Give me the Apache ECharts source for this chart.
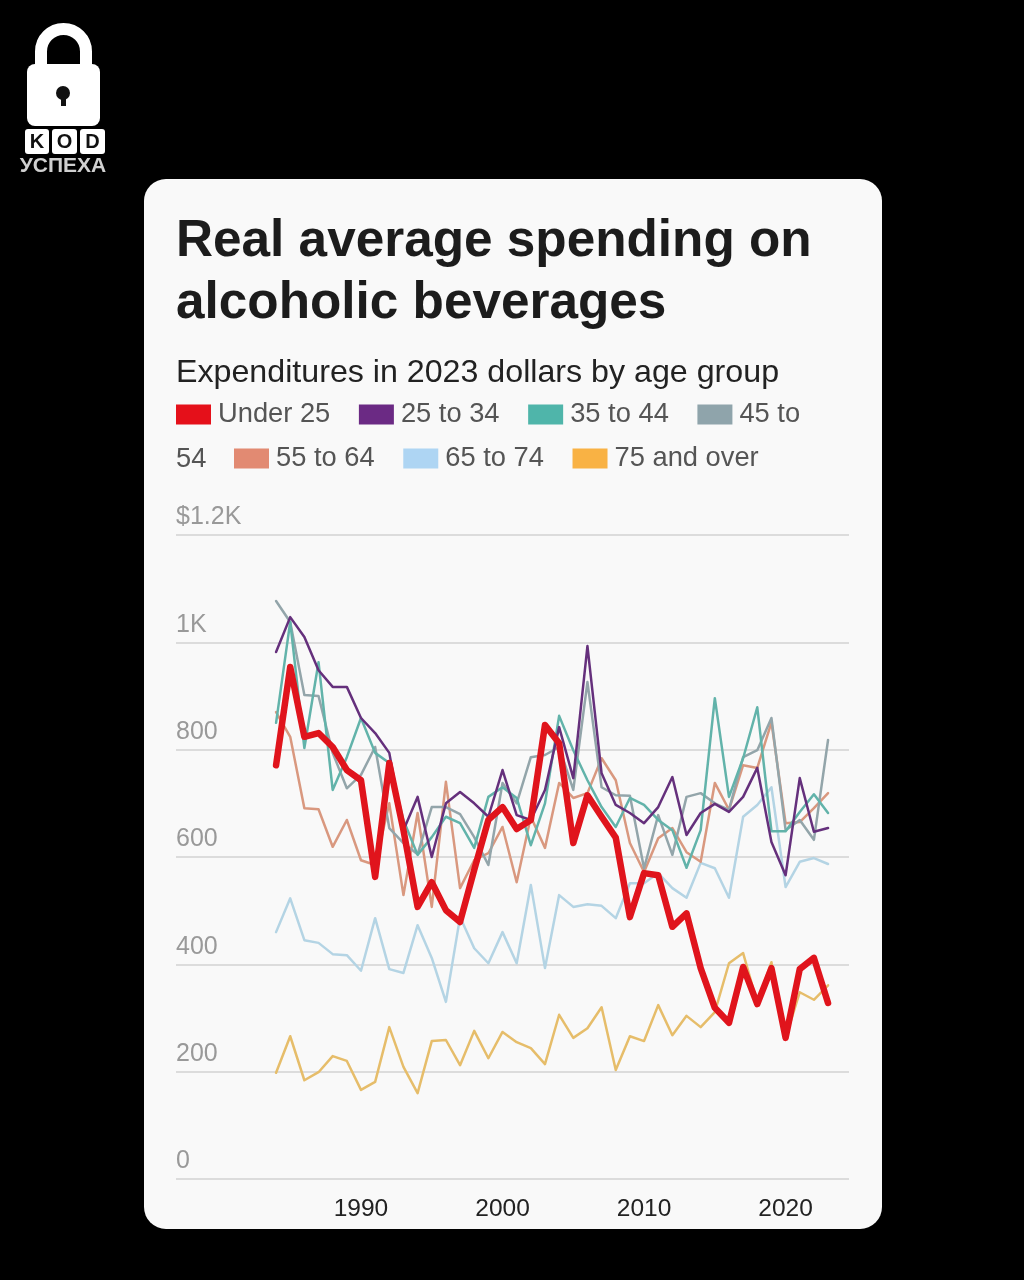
<!DOCTYPE html>
<html><head><meta charset="utf-8">
<style>html,body{margin:0;padding:0;background:#000}#c{width:1024px;height:1280px}</style>
<script src="https://cdn.jsdelivr.net/npm/echarts@6/dist/echarts.min.js"></script>
</head><body><div id="c"></div>
<script>
const years = [1984,1985,1986,1987,1988,1989,1990,1991,1992,1993,1994,1995,1996,1997,1998,1999,2000,2001,2002,2003,2004,2005,2006,2007,2008,2009,2010,2011,2012,2013,2014,2015,2016,2017,2018,2019,2020,2021,2022,2023];
const under25 = [771,954,824,831,805,762,743,563,775,650,507,553,501,479,576,669,693,652,669,846,812,626,715,675,636,488,570,566,470,495,393,319,291,395,326,393,263,391,412,328];
const age25to34 = [982,1047,1010,948,917,917,859,831,794,650,712,600,700,721,700,675,762,678,669,725,842,747,993,756,697,682,663,693,749,641,682,699,684,712,766,628,566,747,647,654];
const age35to44 = [850,1038,803,963,725,786,859,794,775,669,604,637,675,663,617,712,730,710,622,700,863,799,743,693,656,710,697,669,650,580,650,896,712,784,879,648,648,684,717,682];
const age45to54 = [1077,1038,902,900,794,728,753,805,654,626,605,693,693,680,637,585,738,700,786,790,805,725,926,730,715,714,579,678,604,712,719,700,688,786,799,859,650,669,632,818];
const age55to64 = [870,824,691,689,619,669,594,585,700,529,682,507,740,542,594,607,656,553,675,617,738,710,719,784,743,626,572,635,654,609,591,738,688,771,766,851,663,665,691,719];
const age65to74 = [460,523,445,440,419,417,388,486,391,384,473,412,330,488,430,402,460,402,548,393,529,507,512,509,486,551,551,570,542,524,589,579,524,675,697,730,544,591,598,587];
const age75plus = [198,266,184,199,229,220,166,181,283,209,160,257,259,212,276,225,274,255,244,214,306,263,281,320,203,266,257,324,268,304,283,311,402,421,328,404,263,348,334,361];
const yTicks = [0,200,400,600,800,1000,1200];
const yTickLabels = {0:'0',200:'200',400:'400',600:'600',800:'800',1000:'1K',1200:'$1.2K'};
const xTicks = [1990,2000,2010,2020];
const titleText = 'Real average spending on\nalcoholic beverages';
const subtitleText = 'Expenditures in 2023 dollars by age group';

const font = '"Liberation Sans", Arial, sans-serif';
const names = ['Under 25','25 to 34','35 to 44','45 to 54','55 to 64','65 to 74','75 and over'];
const colors = ['#e5101a','#6b2a84','#4fb5aa','#8fa4ab','#e28a72','#aed5f3','#f9b244'];
const lineColors = ['#e0141c','#65307c','#62b3aa','#93a5aa','#d9987f','#b4d4e4','#e6bd6a'];
const values = [under25,age25to34,age35to44,age45to54,age55to64,age65to74,age75plus];
const order = [5,6,4,3,2,1,0];
const series = order.map(i => ({
  name: names[i], type: 'line', symbol: 'none', z: i===0?10:(i===1?6:3),
  color: colors[i],
  lineStyle: {width: i===0?6.5:2.5, color: lineColors[i], join:'round', cap:'round'},
  itemStyle: {color: colors[i]},
  data: years.map((y,k)=>[y,values[i][k]])
}));
const legendBase = {orient:'horizontal', icon:'rect', padding:0, itemWidth:35, itemHeight:20, itemGap:28.6, selectedMode:false,
  textStyle:{fontFamily:font, fontSize:27.3, color:'#555', padding:[3,0,0,2]}};
const chart = echarts.init(document.getElementById('c'), null, {renderer:'canvas'});
chart.setOption({
  backgroundColor:'#000', animation:false,
  title:[
    {text:titleText, left:176, top:211, padding:0, textStyle:{fontFamily:font, fontWeight:'bold', fontSize:51.3, lineHeight:62, color:'#1c1c1c'}},
    {text:subtitleText, left:176, top:357, padding:0, textStyle:{fontFamily:font, fontWeight:'normal', fontSize:32.2, color:'#222'}},
    {text:'54', left:176, top:446, padding:0, textStyle:{fontFamily:font, fontWeight:'normal', fontSize:27.3, color:'#555'}}
  ],
  legend:[
    Object.assign({}, legendBase, {left:176, top:401, data:names.slice(0,4), formatter:n=>n==='45 to 54'?'45 to':n}),
    Object.assign({}, legendBase, {left:234, top:445, data:names.slice(4)})
  ],
  grid:{left:176, right:175, top:535, bottom:101, containLabel:false},
  xAxis:{type:'value', min:1976.93, max:2024.48, splitLine:{show:false},
    axisLine:{show:false}, axisTick:{show:false},
    axisLabel:{customValues:xTicks, formatter:v=>String(v), fontFamily:font, fontSize:24.5, color:'#222', margin:18}},
  yAxis:{type:'value', min:0, max:1200, interval:200,
    axisLine:{show:false}, axisTick:{show:false},
    splitLine:{lineStyle:{color:'#dcdcdc', width:2}},
    axisLabel:{inside:true, verticalAlign:'bottom', margin:0, fontFamily:font, fontSize:25, color:'#999',
      formatter:v=>yTickLabels[v], padding:[0,0,5,0]}},
  series,
  graphic:[
    {type:'rect', z:-10, silent:true, shape:{x:144,y:179,width:738,height:1050,r:22}, style:{fill:'#f9f9f9'}},
    {type:'arc', silent:true, shape:{cx:63.5,cy:51.5,r:22.5,startAngle:Math.PI,endAngle:0,clockwise:true}, style:{stroke:'#fff',lineWidth:12,fill:'none'}},
    {type:'rect', silent:true, shape:{x:35,y:51,width:12,height:16}, style:{fill:'#fff'}},
    {type:'rect', silent:true, shape:{x:80,y:51,width:12,height:16}, style:{fill:'#fff'}},
    {type:'rect', silent:true, shape:{x:27,y:64,width:73,height:62,r:8}, style:{fill:'#fff'}},
    {type:'circle', silent:true, shape:{cx:63,cy:93,r:7}, style:{fill:'#111'}},
    {type:'rect', silent:true, shape:{x:61,y:94,width:5,height:12}, style:{fill:'#111'}},
    {type:'rect', silent:true, shape:{x:25,y:129,width:24,height:25,r:3}, style:{fill:'#fff'}},
    {type:'rect', silent:true, shape:{x:52,y:129,width:25,height:25,r:3}, style:{fill:'#fff'}},
    {type:'rect', silent:true, shape:{x:80,y:129,width:25,height:25,r:3}, style:{fill:'#fff'}},
    {type:'text', silent:true, style:{x:37,y:142,text:'K',align:'center',verticalAlign:'middle',font:'bold 20px '+font,fill:'#111'}},
    {type:'text', silent:true, style:{x:64.5,y:142,text:'O',align:'center',verticalAlign:'middle',font:'bold 20px '+font,fill:'#111'}},
    {type:'text', silent:true, style:{x:92.5,y:142,text:'D',align:'center',verticalAlign:'middle',font:'bold 20px '+font,fill:'#111'}},
    {type:'text', silent:true, style:{x:63,y:166,text:'УСПЕХА',align:'center',verticalAlign:'middle',font:'bold 21px '+font,fill:'#d0d0d0'}}
  ]
});
</script></body></html>
